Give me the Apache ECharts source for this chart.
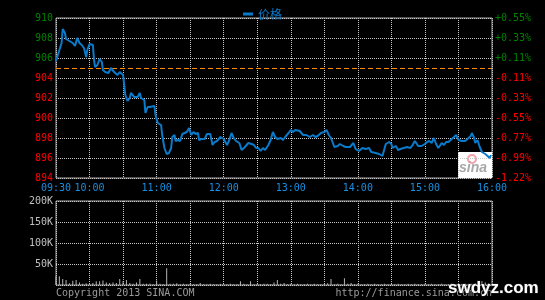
<!DOCTYPE html>
<html><head><meta charset="utf-8">
<script src="https://cdn.jsdelivr.net/npm/echarts@6/dist/echarts.min.js"></script>
<style>html,body{margin:0;padding:0;background:#000;}#c{width:545px;height:300px;}</style>
</head><body><div id="c"></div>
<script>
var prevClose = 905;
var tickMinutes = [0, 30, 90, 150, 210, 270, 330, 390];
var tickLabels = ['09:30', '10:00', '11:00', '12:00', '13:00', '14:00', '15:00', '16:00'];
var priceMinutes = [0,3,5,6,8,9,12,15,17,19,21,23,25,27,28,30,33,34,35,37,39,41,42,44,47,49,52,55,57,58,60,61,62,64,66,67,70,73,75,76,79,80,82,84,85,88,89,91,92,94,95,97,99,101,103,104,106,107,109,111,113,115,117,119,121,123,125,127,128,130,133,135,138,140,142,144,147,150,153,155,157,159,161,164,166,167,169,172,175,177,179,181,183,185,187,190,192,194,196,198,201,203,205,208,210,212,214,218,221,224,227,230,232,234,237,240,242,244,246,249,252,254,257,259,263,266,268,271,274,277,280,282,286,289,292,293,295,298,300,301,304,306,308,311,314,317,319,321,324,327,330,332,334,336,338,340,342,345,347,349,351,354,356,358,360,363,366,368,371,372,374,375,377,379,381,384,386,388,389];
var prices = [905.7,906.8,907.5,908.9,908.5,907.9,907.7,907.5,907.2,908.0,907.5,907.3,907.0,906.1,906.8,907.4,907.3,905.8,905.1,905.3,905.9,905.6,904.8,904.6,904.5,905.0,904.6,904.3,904.6,904.8,904.3,903.3,902.3,901.7,902.0,902.5,902.1,902.1,902.5,902.0,901.8,900.5,901.1,901.1,901.3,901.2,900.3,899.5,899.6,899.3,898.3,897.0,896.4,896.5,897.0,898.1,898.3,897.7,897.8,897.7,898.4,898.5,898.6,899.0,898.3,898.6,898.4,898.5,897.8,897.9,897.9,898.4,898.4,897.3,897.6,897.7,898.1,897.9,897.3,897.8,898.5,898.0,897.7,897.5,896.8,896.6,897.1,897.5,897.4,897.3,897.0,897.0,896.7,897.0,896.8,897.3,897.8,898.6,898.1,897.9,898.0,897.8,898.1,898.5,898.8,898.6,898.8,898.7,898.3,898.3,898.1,898.3,898.1,898.2,898.5,898.6,898.8,898.3,898.0,897.1,897.2,897.4,897.2,897.1,897.1,897.5,896.9,896.7,897.0,896.9,897.0,896.6,896.5,896.4,896.2,896.6,897.4,897.6,897.4,897.0,897.2,896.8,896.9,897.0,897.1,897.0,897.3,897.7,897.2,897.2,897.4,897.6,897.7,897.5,898.0,897.4,897.0,897.5,897.3,897.6,897.6,897.9,898.1,898.3,897.8,897.7,897.7,897.9,898.2,898.5,898.0,897.5,897.8,897.1,896.6,896.4,896.2,896.0,896.3];
var volMinutes = [0,3,6,9,12,15,18,21,24,27,30,33,36,39,42,45,48,51,54,57,60,63,66,69,72,75,78,81,84,87,90,93,96,99,102,105,108,111,114,117,120,123,126,129,132,135,138,141,144,147,150,153,156,159,162,165,168,171,174,177,180,183,186,189,192,195,198,201,204,207,210,213,216,219,222,225,228,231,234,237,240,243,246,249,252,255,258,261,264,267,270,273,276,279,282,285,288,291,294,297,300,303,306,309,312,315,318,321,324,327,330,333,336,339,342,345,348,351,354,357,360,363,366,369,372,375,378,381,384,387,390];
var volK = [21,21,14,12,4,10,12,6,3,4,3,5,9,9,11,6,5,6,5,14,9,12,5,3,6,14,3,3,3,2,11,3,2,40,3,3,4,2,3,2,3,2,2,5,2,2,3,2,2,3,2,2,3,2,2,9,3,2,9,2,3,2,3,3,2,6,12,3,5,2,3,2,3,2,2,3,2,3,2,2,3,4,14,2,3,2,16,3,5,2,3,2,2,3,2,3,2,2,3,2,3,2,3,2,2,3,2,3,2,2,3,2,3,2,2,3,2,2,3,2,3,2,3,2,3,4,3,9,6,4,5];

var priceData = priceMinutes.map(function (m, i) { return [m, prices[i]]; });
var volData = volMinutes.map(function (m, i) { return [m, volK[i] * 1000]; });

var MONO = 'DejaVu Sans Mono';
var BLUE = '#0a7acb';
var grid = { color: '#c8c8c8', type: [1, 1], width: 1 };
function xLabel(v) { var i = tickMinutes.indexOf(v); return i >= 0 ? tickLabels[i] : ''; }
function pct(v) {
  var p = (v - prevClose) / prevClose * 100;
  return (p >= 0 ? '+' : '-') + Math.abs(p).toFixed(2) + '%';
}

var chart = echarts.init(document.getElementById('c'), null, { renderer: 'canvas' });
chart.setOption({
  animation: false,
  backgroundColor: '#000',
  legend: {
    data: ['价格'], left: 238, top: 3, icon: 'rect', itemWidth: 10, itemHeight: 3, itemGap: 6,
    textStyle: { color: BLUE, fontSize: 12, fontFamily: 'Noto Sans CJK SC' }
  },
  grid: [
    { left: 56, right: 53, top: 18, height: 160, show: true, borderColor: '#a8a8a8', borderWidth: 1, backgroundColor: 'transparent' },
    { left: 56, right: 53, top: 201, height: 84, show: true, borderColor: '#a8a8a8', borderWidth: 1, backgroundColor: 'transparent' }
  ],
  xAxis: [
    { type: 'value', gridIndex: 0, min: 0, max: 390, interval: 30,
      axisLine: { show: false }, axisTick: { show: false },
      axisLabel: { formatter: xLabel, color: '#1a8fe0', fontFamily: MONO, fontSize: 10, margin: 5, showMinLabel: true, showMaxLabel: true },
      splitLine: { show: true, lineStyle: grid } },
    { type: 'value', gridIndex: 1, min: 0, max: 390, interval: 30,
      axisLine: { show: false }, axisTick: { show: false }, axisLabel: { show: false },
      splitLine: { show: true, lineStyle: grid } }
  ],
  yAxis: [
    { type: 'value', gridIndex: 0, min: 894, max: 910, interval: 2,
      axisLine: { show: false }, axisTick: { show: false },
      axisLabel: { fontFamily: MONO, fontSize: 10, margin: 3,
        color: function (v) { return v > prevClose ? '#008000' : '#ff0000'; } },
      splitLine: { show: true, lineStyle: grid } },
    { type: 'value', gridIndex: 0, position: 'right', min: 894, max: 910, interval: 2,
      axisLine: { show: false }, axisTick: { show: false }, splitLine: { show: false },
      axisLabel: { formatter: pct, fontFamily: MONO, fontSize: 10, margin: 3,
        color: function (v) { return v > prevClose ? '#008000' : '#ff0000'; } } },
    { type: 'value', gridIndex: 1, min: 0, max: 200000, interval: 50000,
      axisLine: { show: false }, axisTick: { show: false },
      axisLabel: { formatter: function (v) { return v === 0 ? '' : (v / 1000) + 'K'; }, color: '#c0c0c0', fontFamily: MONO, fontSize: 10, margin: 3 },
      splitLine: { show: true, lineStyle: grid } }
  ],
  graphic: [
    { type: 'rect', z: 0, shape: { x: 458, y: 152, width: 34, height: 26 }, style: { fill: '#ffffff' } },
    { type: 'circle', z: 0, shape: { cx: 472, cy: 159, r: 4 }, style: { fill: 'none', stroke: '#f4a0a8', lineWidth: 2 } },
    { type: 'text', z: 0, style: { x: 459, y: 161, text: 'sina', font: 'italic bold 14px Liberation Sans', fill: '#a8a8a8' } },
    { type: 'text', style: { x: 56, y: 288, text: 'Copyright 2013 SINA.COM', font: '10px DejaVu Sans Mono', fill: '#9a9a9a' } },
    { type: 'text', style: { x: 492, y: 288, text: 'http://finance.sina.com.cn', textAlign: 'right', font: '10px DejaVu Sans Mono', fill: '#9a9a9a' } },
    { type: 'text', z: 100, style: { x: 448, y: 280, text: 'swdyz.com', font: 'bold 17px Liberation Sans', fill: '#ffffff', stroke: '#222', lineWidth: 1 } }
  ],
  series: [
    { name: '价格', type: 'line', xAxisIndex: 0, yAxisIndex: 0, data: priceData, showSymbol: false, symbol: 'none',
      lineStyle: { color: BLUE, width: 2 }, itemStyle: { color: BLUE }, z: 5,
      markLine: { silent: true, symbol: 'none', label: { show: false },
        lineStyle: { color: '#ff8c00', type: [5, 3], width: 1 },
        data: [{ yAxis: prevClose }] } },
    { name: 'vol', type: 'bar', xAxisIndex: 1, yAxisIndex: 2, data: volData, barWidth: 1,
      itemStyle: { color: '#b4b4b4' } }
  ]
});
</script></body></html>
